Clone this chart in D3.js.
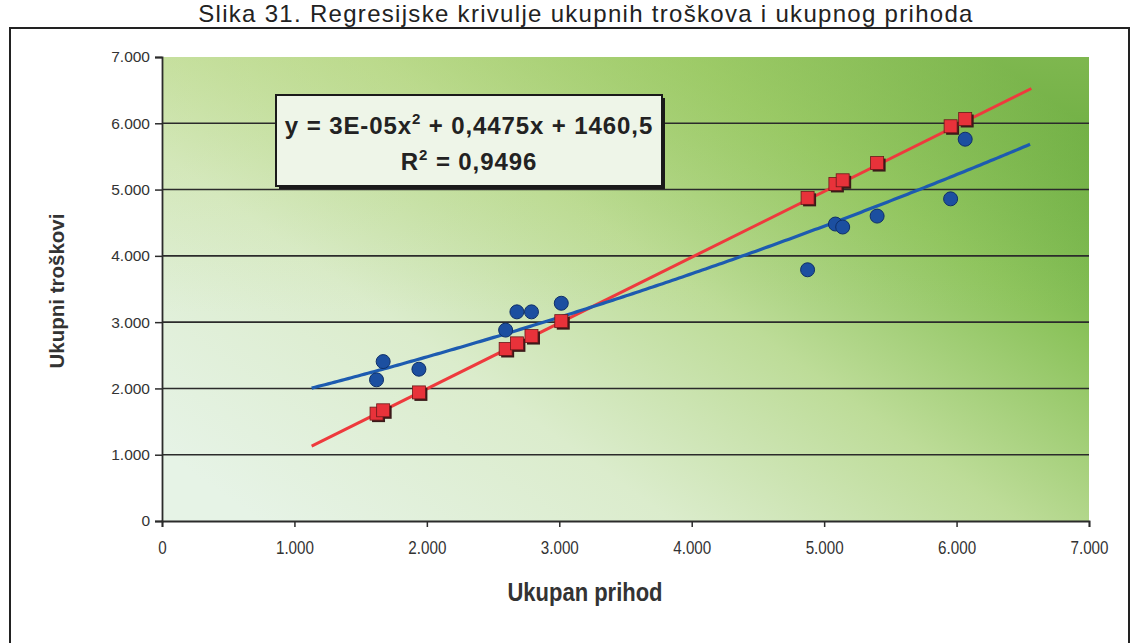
<!DOCTYPE html>
<html><head><meta charset="utf-8">
<script src="https://cdn.jsdelivr.net/npm/d3@7"></script>
<style>
html,body{margin:0;padding:0;background:#fff;}
svg{display:block;}
</style></head>
<body>
<svg id="c" width="1137" height="643"></svg>
<script>
// ---- data ----
const title = "Slika 31. Regresijske krivulje ukupnih troškova i ukupnog prihoda";
const xTitle = "Ukupan prihod";
const yTitle = "Ukupni troškovi";
const prihod   = [1620, 1670, 1940, 2595, 2680, 2790, 3015, 4875, 5085, 5140, 5400, 5955, 6065];
const troskovi = [2130, 2405, 2290, 2880, 3155, 3155, 3285, 3790, 4480, 4435, 4600, 4860, 5760];
const prihodY  = [1620, 1670, 1940, 2595, 2680, 2790, 3015, 4875, 5085, 5140, 5400, 5955, 6065];
const xTicks = [0, 1000, 2000, 3000, 4000, 5000, 6000, 7000];
const yTicks = [0, 1000, 2000, 3000, 4000, 5000, 6000, 7000];
const gridVals = [1000, 2000, 3000, 4000, 5000, 6000];
// trendline (from chart label): y = a x^2 + b x + c
const polyCoef = [3e-5, 0.4475, 1460.5];
const trendRange = [1130, 6565];
const eqLine1 = ["y = 3E-05x", "2", " + 0,4475x + 1460,5"];
const eqLine2 = ["R", "2", " = 0,9496"];

// ---- layout ----
const svg = d3.select("#c");
const x = d3.scaleLinear().domain([0, 7000]).range([162, 1089]);
const y = d3.scaleLinear().domain([0, 7000]).range([521, 57]);
const loc = d3.formatLocale({decimal: ",", thousands: ".", grouping: [3], currency: ["", ""]});
const fmt = loc.format(",");
const FONT = "Liberation Sans, Arial, sans-serif";

const defs = svg.append("defs");
const g = defs.append("linearGradient").attr("id", "bg")
  .attr("x1", "0%").attr("y1", "85%").attr("x2", "100%").attr("y2", "15%");
[[0, "#e6f3e6"], [0.3, "#dbeccc"], [0.55, "#bddc98"], [0.78, "#8cc35c"], [1, "#57a232"]]
  .forEach(s => g.append("stop").attr("offset", s[0]).attr("stop-color", s[1]));
const g2 = defs.append("linearGradient").attr("id", "bg2")
  .attr("x1", "0%").attr("y1", "0%").attr("x2", "0%").attr("y2", "100%");
g2.append("stop").attr("offset", 0).attr("stop-color", "#b9d77a").attr("stop-opacity", 0.4);
g2.append("stop").attr("offset", 0.55).attr("stop-color", "#b9d77a").attr("stop-opacity", 0);

// title (top edge of the figure)
svg.append("text").attr("x", 586).attr("y", 22).attr("text-anchor", "middle")
  .attr("font-family", FONT).attr("font-size", 24).attr("letter-spacing", 1.3)
  .attr("fill", "#222").text(title);

// outer frame
svg.append("rect").attr("x", 10).attr("y", 28).attr("width", 1119).attr("height", 640)
  .attr("fill", "#fff").attr("stroke", "#222").attr("stroke-width", 2);

// plot area
const px0 = x(0), px1 = x(7000), py0 = y(7000), py1 = y(0);
svg.append("rect").attr("x", px0).attr("y", py0).attr("width", px1 - px0).attr("height", py1 - py0)
  .attr("fill", "url(#bg)");
svg.append("rect").attr("x", px0).attr("y", py0).attr("width", px1 - px0).attr("height", py1 - py0)
  .attr("fill", "url(#bg2)");

// gridlines
svg.append("g").selectAll("line").data(gridVals).join("line")
  .attr("x1", px0).attr("x2", px1).attr("y1", d => y(d)).attr("y2", d => y(d))
  .attr("stroke", "#2b2b2b").attr("stroke-width", 1.6);

// axes
const yAxis = svg.append("g").attr("transform", `translate(${px0},0)`)
  .call(d3.axisLeft(y).tickValues(yTicks).tickFormat(fmt).tickSize(7).tickPadding(5));
const xAxis = svg.append("g").attr("transform", `translate(0,${py1})`)
  .call(d3.axisBottom(x).tickValues(xTicks).tickFormat(fmt).tickSize(6).tickPadding(14));
[yAxis, xAxis].forEach(a => {
  a.select(".domain").attr("stroke", "#2b2b2b").attr("stroke-width", 1.8);
  a.selectAll(".tick line").attr("stroke", "#2b2b2b").attr("stroke-width", 1.5);
});
yAxis.selectAll(".tick text").attr("font-family", FONT)
  .attr("font-size", 15.5).attr("fill", "#333");
xAxis.selectAll(".tick text").attr("font-family", FONT)
  .attr("font-size", 19).attr("fill", "#333").attr("transform", "scale(0.8,1)");

// axis titles
svg.append("text").attr("transform", "translate(585,601) scale(0.88,1)").attr("text-anchor", "middle")
  .attr("font-family", FONT)
  .attr("font-weight", "bold").attr("font-size", 25).attr("fill", "#333").text(xTitle);
svg.append("text").attr("transform", "translate(64,291) rotate(-90)").attr("text-anchor", "middle")
  .attr("font-family", FONT)
  .attr("font-weight", "bold").attr("font-size", 20.5).attr("fill", "#333").text(yTitle);

// trend lines
const line = d3.line().x(d => x(d[0])).y(d => y(d[1]));
const xs = d3.range(trendRange[0], trendRange[1] + 1, 25);
const polyPts = xs.map(v => [v, polyCoef[0] * v * v + polyCoef[1] * v + polyCoef[2]]);
const linPts = [[trendRange[0], trendRange[0]], [trendRange[1], trendRange[1] - 40]];
svg.append("path").attr("d", line(linPts)).attr("fill", "none")
  .attr("stroke", "#ee3a3d").attr("stroke-width", 3);
svg.append("path").attr("d", line(polyPts)).attr("fill", "none")
  .attr("stroke", "#1d5bb0").attr("stroke-width", 3.2);

// red squares (prihod vs prihod)
const sq = 13;
const red = svg.append("g");
red.selectAll("rect.sh").data(prihod).join("rect").attr("class", "sh")
  .attr("x", (d, i) => x(d) - sq / 2 + 2).attr("y", (d, i) => y(prihodY[i]) - sq / 2 + 2)
  .attr("width", sq).attr("height", sq).attr("fill", "#3a1a1a");
red.selectAll("rect.m").data(prihod).join("rect").attr("class", "m")
  .attr("x", (d, i) => x(d) - sq / 2).attr("y", (d, i) => y(prihodY[i]) - sq / 2)
  .attr("width", sq).attr("height", sq).attr("fill", "#e8323a").attr("stroke", "#6a1a1a").attr("stroke-width", 0.8);

// blue circles (prihod vs troskovi)
svg.append("g").selectAll("circle").data(prihod).join("circle")
  .attr("cx", d => x(d)).attr("cy", (d, i) => y(troskovi[i])).attr("r", 7)
  .attr("fill", "#1c4fa0").attr("stroke", "#0f2f68").attr("stroke-width", 1);

// equation box
const bx = 276, by = 95, bw = 386, bh = 91;
svg.append("rect").attr("x", bx + 3).attr("y", by + 3).attr("width", bw).attr("height", bh).attr("fill", "#1a1a1a");
svg.append("rect").attr("x", bx).attr("y", by).attr("width", bw).attr("height", bh)
  .attr("fill", "#eef5e8").attr("stroke", "#1a1a1a").attr("stroke-width", 2);
function eq(parts, yy) {
  const t = svg.append("text").attr("x", bx + bw / 2).attr("y", yy).attr("text-anchor", "middle")
    .attr("font-family", FONT).attr("font-weight", "bold")
    .attr("font-size", 24).attr("letter-spacing", 0.9).attr("fill", "#222");
  t.append("tspan").text(parts[0]);
  t.append("tspan").attr("dy", -10).attr("font-size", 15).text(parts[1]);
  t.append("tspan").attr("dy", 10).text(parts[2]);
}
eq(eqLine1, 134);
eq(eqLine2, 170);
</script>
</body></html>
